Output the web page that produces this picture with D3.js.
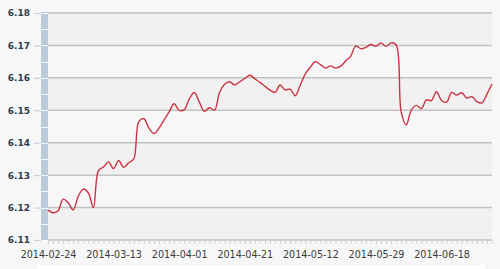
<!DOCTYPE html>
<html>
<head>
<meta charset="utf-8">
<script src="https://cdnjs.cloudflare.com/ajax/libs/d3/7.8.5/d3.min.js"></script>
<style>
body{margin:0;background:#f7f7f7;}
svg{display:block;}
.yAxis text{font-family:"DejaVu Sans",Verdana,sans-serif;font-size:9px;font-weight:bold;fill:#2e3d4c;}
.xAxis text{font-family:"DejaVu Sans",Verdana,sans-serif;font-size:9.6px;fill:#3a3a3a;}
</style>
</head>
<body>
<svg id="chart"></svg>
<script>
var w=500;
var h=269;
var margin={left:48,right:8,top:13,bottom:29};

// trading days
var dates=["2014-02-24","2014-02-25","2014-02-26","2014-02-27","2014-02-28",
  "2014-03-03","2014-03-04","2014-03-05","2014-03-06","2014-03-07",
  "2014-03-10","2014-03-11","2014-03-12","2014-03-13","2014-03-14",
  "2014-03-17","2014-03-18","2014-03-19","2014-03-20","2014-03-21",
  "2014-03-24","2014-03-25","2014-03-26","2014-03-27","2014-03-28",
  "2014-03-31","2014-04-01","2014-04-02","2014-04-03","2014-04-04",
  "2014-04-08","2014-04-09","2014-04-10","2014-04-11","2014-04-14",
  "2014-04-15","2014-04-16","2014-04-17","2014-04-18","2014-04-21",
  "2014-04-22","2014-04-23","2014-04-24","2014-04-25","2014-04-28",
  "2014-04-29","2014-04-30","2014-05-05","2014-05-06","2014-05-07",
  "2014-05-08","2014-05-09","2014-05-12","2014-05-13","2014-05-14",
  "2014-05-15","2014-05-16","2014-05-19","2014-05-20","2014-05-21",
  "2014-05-22","2014-05-23","2014-05-26","2014-05-27","2014-05-28",
  "2014-05-29","2014-05-30","2014-06-03","2014-06-04","2014-06-05",
  "2014-06-06","2014-06-09","2014-06-10","2014-06-11","2014-06-12",
  "2014-06-13","2014-06-16","2014-06-17","2014-06-18","2014-06-19",
  "2014-06-20","2014-06-23","2014-06-24","2014-06-25","2014-06-26",
  "2014-06-27","2014-06-30","2014-07-01","2014-07-02"];

var rates=[6.1192,6.1184,6.1190,6.1226,6.1215,6.1193,6.1235,6.1257,6.1245,6.1200,
  6.1314,6.1325,6.1341,6.1320,6.1345,6.1324,6.1338,6.1350,6.1465,6.1474,
  6.1445,6.1428,6.1445,6.1470,6.1495,6.1520,6.1500,6.1502,6.1535,6.1555,
  6.1525,6.1497,6.1508,6.1500,6.1555,6.1580,6.1588,6.1578,6.1588,6.1598,
  6.1608,6.1597,6.1586,6.1574,6.1562,6.1555,6.1578,6.1563,6.1565,6.1545,
  6.1578,6.1612,6.1633,6.1650,6.1641,6.1630,6.1637,6.1630,6.1636,6.1652,
  6.1667,6.1698,6.1690,6.1694,6.1703,6.1697,6.1708,6.1697,6.1708,6.1702,
  6.1495,6.1455,6.1500,6.1515,6.1505,6.1532,6.1530,6.1557,6.1530,6.1525,
  6.1555,6.1547,6.1554,6.1538,6.1542,6.1527,6.1523,6.1550,6.1581];

var yTicks=[6.11,6.12,6.13,6.14,6.15,6.16,6.17,6.18];
var xLabels=["2014-02-24","2014-03-13","2014-04-01","2014-04-21","2014-05-12","2014-05-29","2014-06-18"];

var svg=d3.select("#chart")
          .attr("width",w)
          .attr("height",h);

var xScale=d3.scalePoint()
             .domain(dates)
             .range([margin.left,w-margin.right]);
var yScale=d3.scaleLinear()
             .domain([6.11,6.18])
             .range([h-margin.bottom,margin.top]);

// alternating bands
svg.selectAll("rect.band")
   .data(yTicks.slice(0,-1))
   .enter()
   .append("rect")
   .classed("band",true)
   .attr("x",margin.left)
   .attr("width",w-margin.right-margin.left)
   .attr("y",function(d,i){return yScale(yTicks[i+1]);})
   .attr("height",function(d,i){return yScale(d)-yScale(yTicks[i+1]);})
   .attr("fill",function(d,i){return i%2==0?"#f1f1f1":"#f7f7f7";});

// grid lines
svg.selectAll("line.grid")
   .data(yTicks)
   .enter()
   .append("line")
   .classed("grid",true)
   .attr("x1",margin.left)
   .attr("x2",w-margin.right)
   .attr("y1",function(d){return yScale(d);})
   .attr("y2",function(d){return yScale(d);})
   .attr("stroke","#c2c2c2")
   .attr("stroke-width",1.5);

// left blue bar
svg.append("rect")
   .attr("x",41)
   .attr("width",7)
   .attr("y",yScale(6.18)-1)
   .attr("height",yScale(6.11)-yScale(6.18)+1)
   .attr("fill","#bccbdc");
var halfSteps=[];
yTicks.forEach(function(d,i){
  halfSteps.push(d);
  if(i<yTicks.length-1) halfSteps.push(d+0.005);
});
svg.selectAll("line.sep")
   .data(halfSteps.slice(1))
   .enter()
   .append("line")
   .classed("sep",true)
   .attr("x1",41).attr("x2",48)
   .attr("y1",function(d){return Math.round(yScale(d))+0.5;})
   .attr("y2",function(d){return Math.round(yScale(d))+0.5;})
   .attr("stroke","#f4f6f9")
   .attr("stroke-width",1);

// y axis
var yAxis=d3.axisLeft(yScale)
            .tickValues(yTicks)
            .tickFormat(d3.format(".2f"))
            .tickSize(7)
            .tickPadding(4);
var gy=svg.append("g")
   .classed("yAxis",true)
   .attr("transform","translate(41,0)")
   .call(yAxis);
gy.select(".domain").remove();
gy.selectAll(".tick line").attr("stroke","#c5d3e2").attr("stroke-width",1.2);

// x axis minor ticks
var xMinor=d3.axisBottom(xScale)
             .tickSize(3)
             .tickFormat("");
var gxm=svg.append("g")
   .attr("transform","translate(0,"+(yScale(6.11)+1)+")")
   .call(xMinor);
gxm.select(".domain").remove();
gxm.selectAll(".tick line").attr("stroke","#c5d3e2");

// x axis labels
var xAxis=d3.axisBottom(xScale)
            .tickValues(xLabels)
            .tickSize(0)
            .tickPadding(10.7);
var gx=svg.append("g")
   .classed("xAxis",true)
   .attr("transform","translate(0,"+yScale(6.11)+")")
   .call(xAxis);
gx.select(".domain").remove();

// rate line
var line=d3.line()
           .x(function(d,i){return xScale(dates[i]);})
           .y(function(d){return yScale(d);})
           .curve(d3.curveCatmullRom.alpha(0.5));
svg.append("path")
   .datum(rates)
   .attr("d",line)
   .attr("fill","none")
   .attr("stroke","#cc3344")
   .attr("stroke-width",1.4);

// strip at the bottom
svg.append("rect")
   .attr("x",37)
   .attr("y",265)
   .attr("width",448)
   .attr("height",4)
   .attr("fill","#ffffff");
</script>
</body>
</html>
